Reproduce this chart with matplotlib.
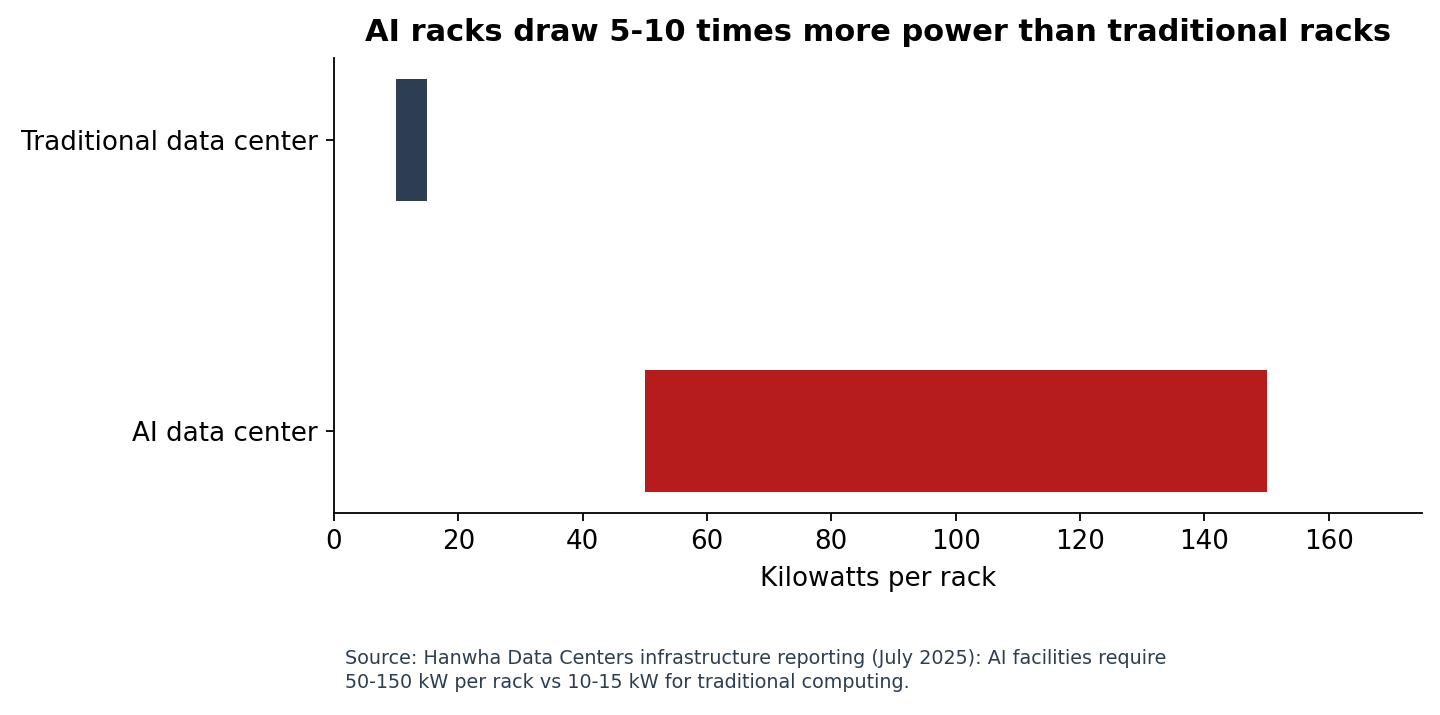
import matplotlib
matplotlib.use("Agg")
import matplotlib.pyplot as plt

# data
categories = ["AI data center", "Traditional data center"]
low_kw = [50, 10]
high_kw = [150, 15]
bar_colors = ["#b71c1c", "#2e3e52"]

fig = plt.figure(figsize=(14.4, 7.15), dpi=100)
ax = fig.add_axes([334/1440, 1 - 513/715, (1422-334)/1440, (513-58)/715])

widths = [h - l for l, h in zip(low_kw, high_kw)]
ax.barh(range(len(categories)), widths, left=low_kw, height=0.42, color=bar_colors)
ax.set_yticks(range(len(categories)))
ax.set_yticklabels(categories)
ax.set_xlim(0, 175)
ax.set_xticks(range(0, 161, 20))
ax.tick_params(labelsize=18.8, length=5.5, width=1.3, pad=6)
ax.spines["top"].set_visible(False)
ax.spines["right"].set_visible(False)
for s in ["left", "bottom"]:
    ax.spines[s].set_linewidth(1.3)

ax.set_xlabel("Kilowatts per rack", fontsize=18.8, labelpad=8)
ax.set_title("AI racks draw 5-10 times more power than traditional racks",
             fontsize=22, fontweight="bold", pad=12)

fig.text(345/1440, 1 - 649/715,
         "Source: Hanwha Data Centers infrastructure reporting (July 2025): AI facilities require\n"
         "50-150 kW per rack vs 10-15 kW for traditional computing.",
         fontsize=13.8, color="#2e3e52", va="top", linespacing=1.3)

fig.savefig("out.png", dpi=100)
